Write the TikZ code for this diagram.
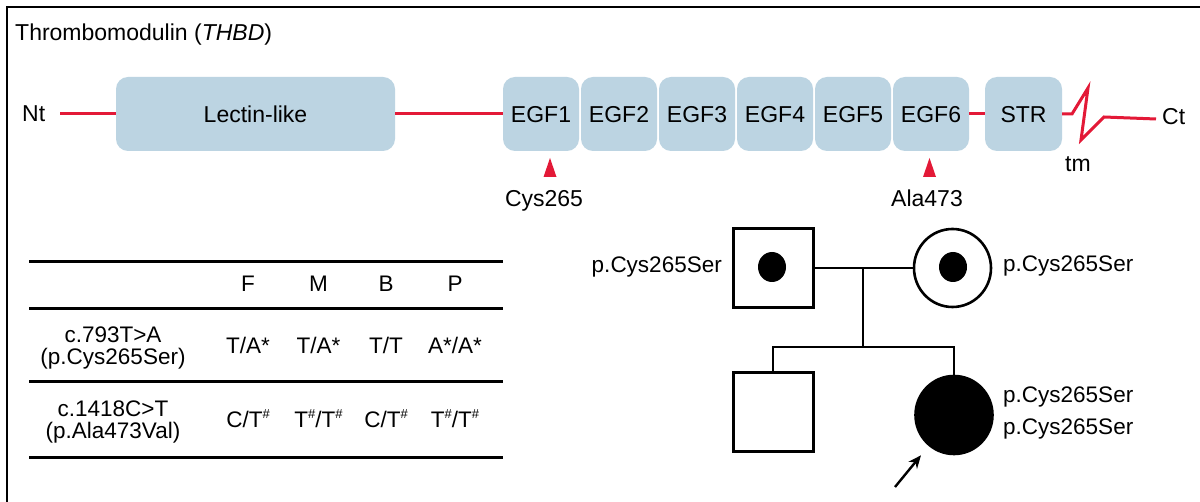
\documentclass[tikz,border=0pt]{standalone}
\usepackage{fontspec}
\setmainfont{Liberation Sans}
\usetikzlibrary{arrows.meta,shapes.geometric}
\definecolor{domainfill}{RGB}{188,212,226}
\definecolor{chainred}{RGB}{227,25,55}
% raised hash mark used for the second variant allele
\newcommand{\hashsup}{\raisebox{0.42em}{\fontsize{13}{13}\selectfont\#}}
\begin{document}
\begin{tikzpicture}[x=1pt,y=-1pt,
  lbl/.style={inner sep=0pt, font=\fontsize{23}{27}\selectfont},
  tab/.style={inner sep=0pt, font=\fontsize{22.5}{26}\selectfont},
  ped/.style={inner sep=0pt, font=\fontsize{22.5}{26}\selectfont},
  dombox/.style={fill=domainfill, rounded corners=12pt, minimum height=74pt,
    inner sep=0pt, text height=16.5pt, text depth=0pt,
    font=\fontsize{23}{27}\selectfont},
  egfbox/.style={dombox, minimum width=76pt},
  chain/.style={draw=chainred, line width=3pt},
  site/.style={fill=chainred},
  rule/.style={line width=3pt},
  pline/.style={line width=2.8pt},
  male/.style={draw, line width=3pt, rectangle, minimum width=80pt, minimum height=79pt, inner sep=0pt},
  female/.style={draw, line width=2.6pt, ellipse, minimum width=77pt, minimum height=78pt, inner sep=0pt},
  carrier/.style={fill, ellipse, minimum width=28pt, minimum height=30pt, inner sep=0pt},
  proband/.style={-{Stealth[length=13pt,width=11pt]}, line width=2.4pt}]
\useasboundingbox (0,0) rectangle (1200,502);
\fill[white] (0,0) rectangle (1200,502);

% panel frame
\draw[line width=2.6pt] (7,502) -- (7,7) -- (1200,7);

% ---------- protein domain map ----------
\node[lbl, anchor=base west] (title) at (15,41) {Thrombomodulin (\textit{THBD})};

\node[lbl, anchor=base west] (nt) at (22,122) {Nt};
\coordinate (ntend) at (60,114);
\node[dombox, minimum width=279pt] (lectin) at (255.5,114) {Lectin-like};
\foreach \i in {1,...,6}{
  \node[egfbox] (egf\i) at ({541+78*(\i-1)},114) {EGF\i};
}
\node[dombox, minimum width=77pt] (str) at (1023.5,114) {STR};

\coordinate (tm1) at (1072,114);
\coordinate (tm2) at (1088,88);
\coordinate (tm3) at (1081,140);
\coordinate (tm4) at (1104,117);
\coordinate (ctend) at (1156,119);
\node[lbl, anchor=base west] (ct) at (1162,125) {Ct};
\node[lbl, anchor=base] (tm) at (1078,172) {tm};

\draw[chain] (ntend) -- (lectin.west);
\draw[chain] (lectin.east) -- (egf1.west);
\draw[chain] (egf6.east) -- (str.west);
\draw[chain, line join=miter] (str.east) -- (tm1) -- (tm2) -- (tm3) -- (tm4) -- (ctend);

% mutation sites
\fill[site] (550,158) -- (556.5,177) -- (543.5,177) -- cycle;
\fill[site] (929.5,158) -- (936,177) -- (923,177) -- cycle;
\node[lbl, anchor=base] (cys) at (544,207) {Cys265};
\node[lbl, anchor=base] (ala) at (927,207) {Ala473};

% ---------- genotype table ----------
\foreach \y in {262,309,382,458}{
  \draw[rule] (29,\y) -- (503,\y);
}
\node[tab, anchor=base] (hF) at (248,292) {F};
\node[tab, anchor=base] (hM) at (318.5,292) {M};
\node[tab, anchor=base] (hB) at (386,292) {B};
\node[tab, anchor=base] (hP) at (455,292) {P};

\node[tab, anchor=base] (v1a) at (113,343) {c.793T>A};
\node[tab, anchor=base] (v1b) at (113,365) {(p.Cys265Ser)};
\node[tab, anchor=base] (r1F) at (248,354) {T/A*};
\node[tab, anchor=base] (r1M) at (318.5,354) {T/A*};
\node[tab, anchor=base] (r1B) at (386,354) {T/T};
\node[tab, anchor=base] (r1P) at (455,354) {A*/A*};

\node[tab, anchor=base] (v2a) at (113,417) {c.1418C>T};
\node[tab, anchor=base] (v2b) at (113,439) {(p.Ala473Val)};
\node[tab, anchor=base] (r2F) at (248,428) {C/T\hashsup};
\node[tab, anchor=base] (r2M) at (318.5,428) {T\hashsup/T\hashsup};
\node[tab, anchor=base] (r2B) at (386,428) {C/T\hashsup};
\node[tab, anchor=base] (r2P) at (455,428) {T\hashsup/T\hashsup};

% ---------- pedigree ----------
\node[male] (father) at (773,268) {};
\node[carrier] (fdot) at (772,267) {};
\node[female] (mother) at (952.5,268) {};
\node[carrier] (mdot) at (953,267) {};
\node[male] (son) at (773,412.5) {};
\node[female, fill] (daughter) at (954,415) {};

\coordinate (mate) at (863,268);
\coordinate (sib) at (863,347);
\draw[pline] (father.east) -- (mother.west);
\draw[pline] (mate) -- (sib);
\draw[pline, line width=2.5pt] (son.north) |- (sib) -| (daughter.north);

\coordinate (ptail) at (895,487);
\draw[proband, shorten >=12pt] (ptail) -- (daughter);

\node[ped, anchor=base east] (flab) at (722,273) {p.Cys265Ser};
\node[ped, anchor=base west] (mlab) at (1003,272) {p.Cys265Ser};
\node[ped, anchor=base west] (dlab1) at (1003,403) {p.Cys265Ser};
\node[ped, anchor=base west] (dlab2) at (1003,435) {p.Cys265Ser};
\end{tikzpicture}
\end{document}
